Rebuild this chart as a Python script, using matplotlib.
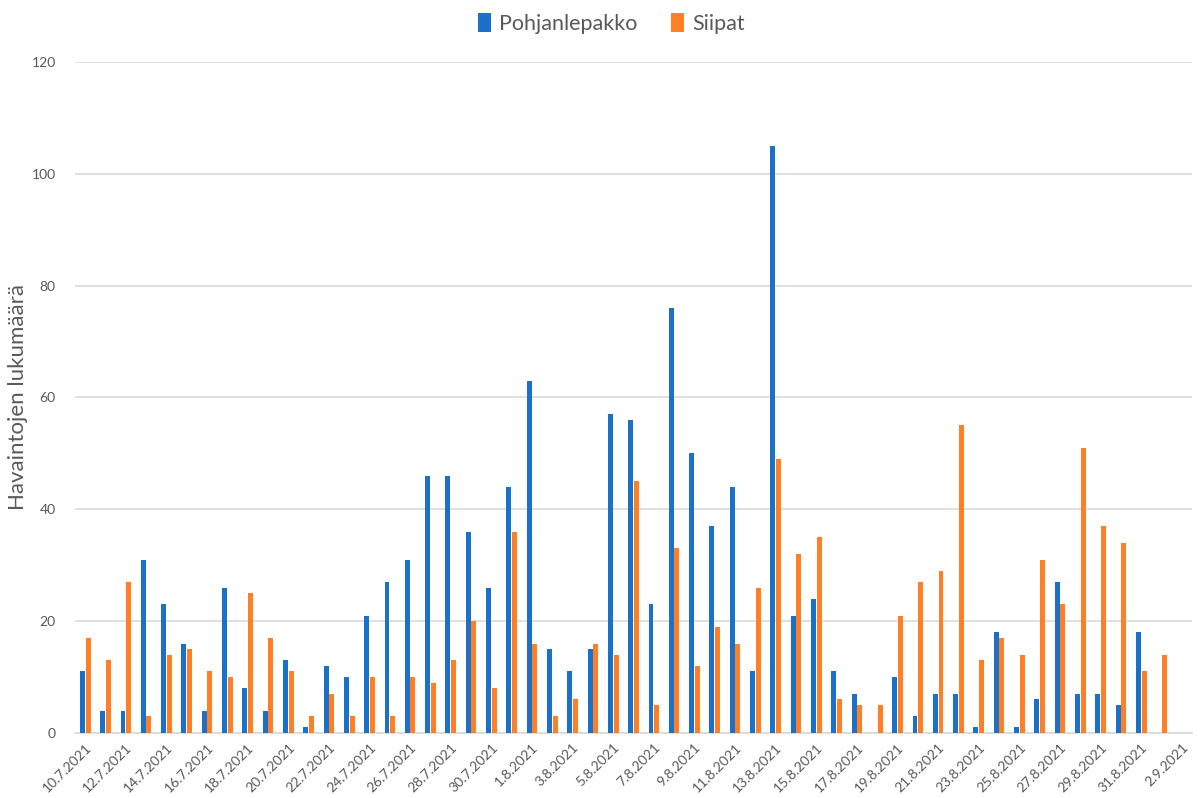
import numpy as np
import matplotlib.pyplot as plt

# päivämäärät 10.7.2021 - 2.9.2021
dates = [f'{d}.7.2021' for d in range(10, 32)] + \
        [f'{d}.8.2021' for d in range(1, 32)] + \
        ['1.9.2021', '2.9.2021']

# havaintojen lukumäärät
pohjanlepakko = [11, 4, 4, 31, 23, 16, 4, 26, 8, 4, 13, 1, 12, 10, 21, 27, 31, 46, 46, 36, 26, 44,
                 63, 15, 11, 15, 57, 56, 23, 76, 50, 37, 44, 11, 105, 21, 24, 11, 7, 0, 10, 3, 7, 7,
                 1, 18, 1, 6, 27, 7, 7, 5, 18,
                 0, 0]
siipat = [17, 13, 27, 3, 14, 15, 11, 10, 25, 17, 11, 3, 7, 3, 10, 3, 10, 9, 13, 20, 8, 36,
          16, 3, 6, 16, 14, 45, 5, 33, 12, 19, 16, 26, 49, 32, 35, 6, 5, 5, 21, 27, 29, 55,
          13, 17, 14, 31, 23, 51, 37, 34, 11,
          14, 0]

plt.rcParams['font.family'] = ['Lato', 'DejaVu Sans']
text_color = '#595959'
grid_color = '#d9d9d9'

fig = plt.figure(figsize=(12.01, 7.98), dpi=100)
ax = fig.add_axes([0.0625, 0.0815, 0.93, 0.8408])

x = np.arange(len(dates))
w = 0.245
ax.bar(x - 0.14, pohjanlepakko, width=w, color='#1b70c8', label='Pohjanlepakko', zorder=3)
ax.bar(x + 0.14, siipat, width=w, color='#ff7f27', label='Siipat', zorder=3)

ax.set_xlim(-0.5, len(dates) - 0.5)
ax.set_ylim(0, 120)
ax.set_yticks(range(0, 121, 20))
ax.yaxis.grid(True, color=grid_color, linewidth=1.2, zorder=0)
ax.set_axisbelow(True)

ax.set_xticks(x[::2])
ax.set_xticklabels(dates[::2], rotation=45, ha='right', rotation_mode='anchor')
ax.tick_params(axis='both', length=0, colors=text_color, labelsize=10)
ax.tick_params(axis='x', pad=6)
ax.tick_params(axis='y', pad=14)

for side in ['top', 'right', 'left']:
    ax.spines[side].set_visible(False)
ax.spines['bottom'].set_color(grid_color)
ax.spines['bottom'].set_linewidth(1.2)

ax.set_ylabel('Havaintojen lukumäärä', fontsize=16, color=text_color)
ax.yaxis.set_label_coords(-0.042, 0.5)

fig.legend(loc='upper center', bbox_to_anchor=(0.509, 1.008), ncol=2, frameon=False,
           fontsize=15.5, labelcolor=text_color, handlelength=0.6, handleheight=1.0,
           handletextpad=0.35, columnspacing=1.6)

fig.savefig('out.png', dpi=100)
